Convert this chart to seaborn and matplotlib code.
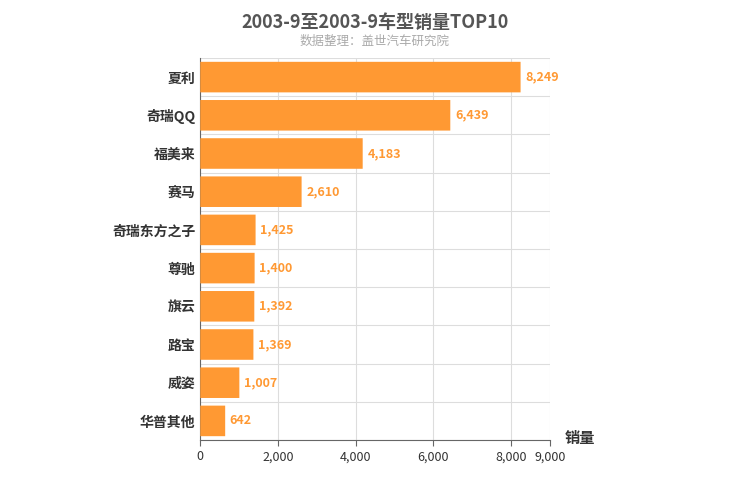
import numpy as np
import matplotlib.pyplot as plt
import seaborn as sns
from matplotlib.patches import FancyBboxPatch
from matplotlib.ticker import FixedLocator

plt.rcParams['font.family'] = ['Noto Sans CJK SC', 'DejaVu Sans']

# dados
modelos = ['夏利', '奇瑞QQ', '福美来', '赛马', '奇瑞东方之子', '尊驰', '旗云', '路宝', '威姿', '华普其他']
vendas = [8249, 6439, 4183, 2610, 1425, 1400, 1392, 1369, 1007, 642]
ticks_x = [0, 2000, 4000, 6000, 8000, 9000]

cor = '#ff9933'
fig = plt.figure(figsize=(7.5, 5), dpi=100)
ax = fig.add_axes([0.267, 0.12, 0.466, 0.764])
sns.barplot(x=vendas, y=modelos, color=cor, width=0.8, ax=ax, orient='h')

# troca as barras por retangulos arredondados
for p in list(ax.patches):
    x0, y0, w, h = p.get_x(), p.get_y(), p.get_width(), p.get_height()
    p.remove()
    ax.add_patch(FancyBboxPatch((x0, y0), w, h, boxstyle='round,pad=0,rounding_size=0.2',
                                mutation_aspect=1 / 200 * 0 + 1, fc=cor, ec='none', zorder=3))

for i, v in enumerate(vendas):
    ax.text(v + 120, i, f'{v:,}', va='center', ha='left', color=cor, fontsize=9, fontweight='bold')

ax.set_xlim(0, 9000)
ax.set_ylim(len(modelos) - 0.5, -0.5)
ax.set_xticks(ticks_x)
ax.set_xticklabels([f'{t:,}' for t in ticks_x], fontsize=9, color='#333')
ax.yaxis.set_minor_locator(FixedLocator(np.arange(-0.5, len(modelos), 1)))
ax.grid(True, axis='x', color='#dddddd', lw=0.8, zorder=0)
ax.grid(True, axis='y', which='minor', color='#dddddd', lw=0.8, zorder=0)
ax.grid(False, axis='y', which='major')
ax.set_axisbelow(True)
ax.tick_params(axis='y', which='both', length=0, labelsize=10)
ax.tick_params(axis='x', length=4, color='#666')
for lbl in ax.get_yticklabels():
    lbl.set_fontweight('bold'); lbl.set_color('#333')
for s in ['top', 'right']:
    ax.spines[s].set_visible(False)
ax.spines['left'].set_color('#666')
ax.spines['bottom'].set_color('#666')

fig.text(0.5, 0.955, '2003-9至2003-9车型销量TOP10', ha='center', va='center',
         fontsize=13, fontweight='bold', color='#555')
fig.text(0.5, 0.918, '数据整理：盖世汽车研究院', ha='center', va='center', fontsize=9, color='#aaa')
fig.text(0.753, 0.123, '销量', ha='left', va='center', fontsize=11, fontweight='bold', color='#333')

fig.savefig('out.png', dpi=100)
